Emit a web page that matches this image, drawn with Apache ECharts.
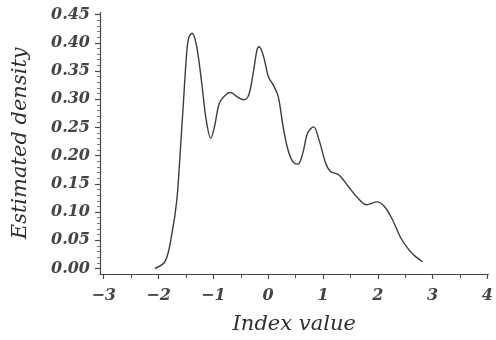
<!DOCTYPE html>
<html>
<head>
<meta charset="utf-8">
<script src="https://cdn.jsdelivr.net/npm/echarts@6/dist/echarts.min.js"></script>
<style>
  html, body { margin: 0; padding: 0; background: #fff; }
  #chart { width: 496px; height: 340px; }
</style>
</head>
<body>
<div id="chart"></div>
<script>
// Kernel density estimate of the index value
const indexValues = [
  -2.066, -1.878, -1.756, -1.667, -1.606, -1.547, -1.488, -1.449, -1.389,
  -1.309, -1.219, -1.130, -1.046, -0.980, -0.890, -0.772, -0.683, -0.563, -0.443,
  -0.353, -0.264, -0.205, -0.164, -0.085, 0.004, 0.094, 0.183, 0.273, 0.362,
  0.452, 0.541, 0.631, 0.720, 0.828, 0.928, 1.048, 1.137, 1.286, 1.465,
  1.644, 1.794, 1.987, 2.121, 2.270, 2.420, 2.569, 2.689, 2.819
];
const densityValues = [
  0.000, 0.013, 0.062, 0.121, 0.204, 0.293, 0.380, 0.409, 0.417,
  0.396, 0.334, 0.263, 0.231, 0.251, 0.293, 0.308, 0.312, 0.304, 0.299,
  0.308, 0.352, 0.387, 0.393, 0.376, 0.340, 0.325, 0.305, 0.251, 0.210,
  0.189, 0.185, 0.204, 0.240, 0.251, 0.228, 0.187, 0.172, 0.166, 0.145,
  0.124, 0.113, 0.118, 0.110, 0.086, 0.054, 0.033, 0.021, 0.012
];

// Axis ticks
const xMajorTicks = [-3, -2, -1, 0, 1, 2, 3, 4];
const xMinorTicks = [-2.5, -1.5, -0.5, 0.5, 1.5, 2.5, 3.5];
const yMajorTicks = [0, 0.05, 0.10, 0.15, 0.20, 0.25, 0.30, 0.35, 0.40, 0.45];
const yMinorTicks = [];
for (let i = 0; i < 45; i++) {
  if (i % 5 !== 0) yMinorTicks.push(+(i * 0.01).toFixed(2));
}

const xRange = [-3.068, 4.018];
const yRange = [-0.00975, 0.4537];

const FONT = "'DejaVu Serif', serif";
const INK = '#2e2e2e';
const LINE = '#4a4a4a';

const points = indexValues.map((v, i) => [v, densityValues[i]]);

const chart = echarts.init(document.getElementById('chart'), null, { renderer: 'canvas' });
chart.setOption({
  animation: false,
  backgroundColor: '#ffffff',
  grid: { left: 100, right: 0, top: 12.5, bottom: 66, containLabel: false },
  xAxis: [
    {
      type: 'value',
      min: xRange[0],
      max: xRange[1],
      position: 'bottom',
      name: 'Index value',
      nameLocation: 'middle',
      nameGap: 40,
      nameTextStyle: { fontFamily: FONT, fontStyle: 'italic', fontSize: 21, color: INK },
      axisLine: { show: true, onZero: false, lineStyle: { color: LINE, width: 1.2 } },
      axisTick: { show: true, inside: false, length: 5, customValues: xMajorTicks, lineStyle: { color: LINE, width: 1.2 } },
      axisLabel: {
        show: true,
        customValues: xMajorTicks,
        margin: 14,
        fontFamily: FONT, fontStyle: 'italic', fontWeight: 'bold', fontSize: 16, color: '#444',
        formatter: v => (v < 0 ? '\u2212' + Math.abs(v) : String(v))
      },
      splitLine: { show: false }
    },
    {
      type: 'value',
      min: xRange[0],
      max: xRange[1],
      position: 'bottom',
      axisLine: { show: false, onZero: false },
      axisTick: { show: true, inside: false, length: 4, customValues: xMinorTicks, lineStyle: { color: LINE, width: 1 } },
      axisLabel: { show: false },
      splitLine: { show: false }
    }
  ],
  yAxis: [
    {
      type: 'value',
      min: yRange[0],
      max: yRange[1],
      position: 'left',
      name: 'Estimated density',
      nameLocation: 'middle',
      nameGap: 69,
      nameRotate: 90,
      nameTextStyle: { fontFamily: FONT, fontStyle: 'italic', fontSize: 21, color: INK },
      axisLine: { show: true, onZero: false, lineStyle: { color: LINE, width: 1.2 } },
      axisTick: { show: true, inside: false, length: 5, customValues: yMajorTicks, lineStyle: { color: LINE, width: 1.2 } },
      axisLabel: {
        show: true,
        customValues: yMajorTicks,
        margin: 10,
        fontFamily: FONT, fontStyle: 'italic', fontWeight: 'bold', fontSize: 16, color: '#444',
        formatter: v => v.toFixed(2)
      },
      splitLine: { show: false }
    },
    {
      type: 'value',
      min: yRange[0],
      max: yRange[1],
      position: 'left',
      axisLine: { show: false, onZero: false },
      axisTick: { show: true, inside: false, length: 3, customValues: yMinorTicks, lineStyle: { color: '#777', width: 1 } },
      axisLabel: { show: false },
      splitLine: { show: false }
    }
  ],
  series: [
    {
      type: 'line',
      xAxisIndex: 0,
      yAxisIndex: 0,
      data: points,
      smooth: 0.35,
      showSymbol: false,
      lineStyle: { color: '#3c3c3c', width: 1.4 }
    }
  ]
});
</script>
</body>
</html>
